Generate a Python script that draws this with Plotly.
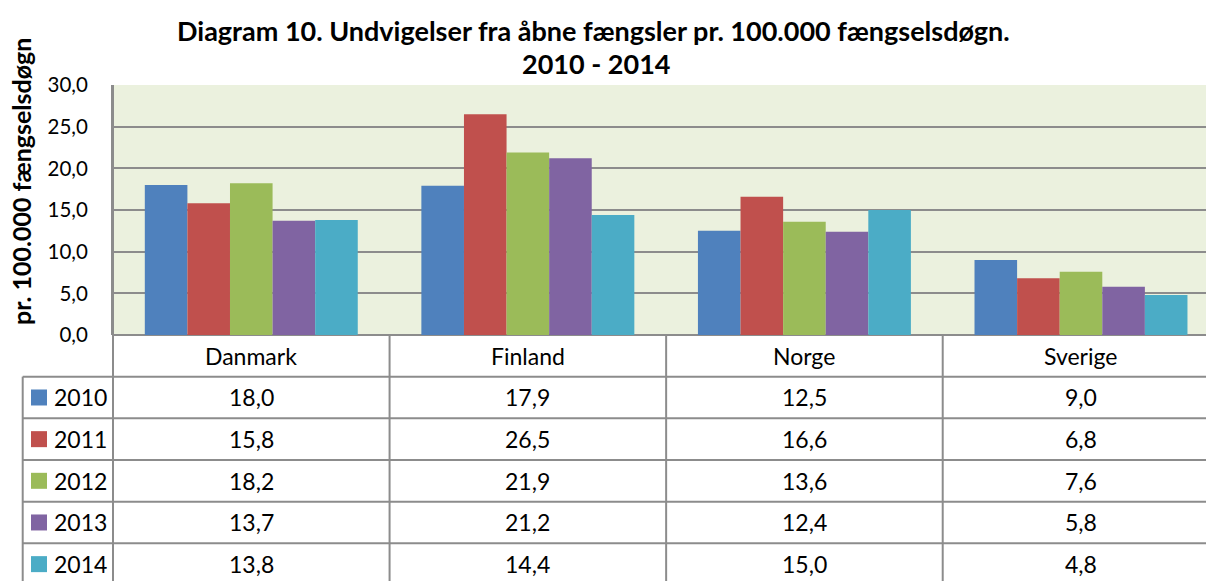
import plotly.graph_objects as go

countries = ["Danmark", "Finland", "Norge", "Sverige"]
years = ["2010", "2011", "2012", "2013", "2014"]
values = {
    "2010": [18.0, 17.9, 12.5, 9.0],
    "2011": [15.8, 26.5, 16.6, 6.8],
    "2012": [18.2, 21.9, 13.6, 7.6],
    "2013": [13.7, 21.2, 12.4, 5.8],
    "2014": [13.8, 14.4, 15.0, 4.8],
}
colors = ["#4F81BD", "#C0504D", "#9BBB59", "#8064A2", "#4BACC6"]
y_ticks = [0, 5, 10, 15, 20, 25, 30]

FONT = "Lato"
PAGE_W, PAGE_H = 1206, 581
W, H = PAGE_W, PAGE_H
PL, PT = 113, 85          # plot area left/top in page pixels
PLOT_W, PLOT_H = PAGE_W - PL, 250
L, T = PL, PT
B = H - T - PLOT_H
XMIN, XMAX = -0.5, 3.452
GRID = "#8C8C8C"
LINE = "#8C8C8C"

fig = go.Figure()
for i, yr in enumerate(years):
    fig.add_trace(go.Bar(
        x=list(range(len(countries))), y=values[yr], name=yr,
        marker=dict(color=colors[i], line=dict(width=0)),
        showlegend=False, hoverinfo="skip",
    ))

def px_x(px):
    return (px - PL) / PLOT_W

def px_y(py):
    return (PT + PLOT_H - py) / PLOT_H

def cat_x(c):
    return (c - XMIN) / (XMAX - XMIN)

shapes = []
annotations = []
row_h = 41.66
y0 = PT + PLOT_H
header_bottom = y0 + row_h
legend_left = 22.7
for k in range(0, 6):
    yy = header_bottom + k * row_h
    shapes.append(dict(type="line", xref="paper", yref="paper",
                       x0=px_x(legend_left), x1=1.0, y0=px_y(yy), y1=px_y(yy),
                       line=dict(color=LINE, width=2)))
shapes.append(dict(type="line", xref="paper", yref="paper",
                   x0=px_x(legend_left), x1=px_x(legend_left),
                   y0=px_y(header_bottom), y1=px_y(PAGE_H + 10),
                   line=dict(color=LINE, width=2)))
for c in range(len(countries) + 1):
    xx = cat_x(c - 0.5)
    if xx > 1.0:
        continue
    shapes.append(dict(type="line", xref="paper", yref="paper",
                       x0=xx, x1=xx, y0=0 if c > 0 else 1, y1=px_y(PAGE_H + 10),
                       line=dict(color=LINE, width=2)))

TS = 23
for c, name in enumerate(countries):
    annotations.append(dict(xref="paper", yref="paper", x=cat_x(c), y=px_y(y0 + row_h / 2),
                            text=name, showarrow=False, xanchor="center", yanchor="middle",
                            font=dict(family=FONT, size=TS, color="#000")))
for k, yr in enumerate(years):
    yc = header_bottom + k * row_h + row_h / 2
    shapes.append(dict(type="rect", xref="paper", yref="paper",
                       x0=px_x(31), x1=px_x(47), y0=px_y(yc - 8), y1=px_y(yc + 8),
                       fillcolor=colors[k], line=dict(width=0)))
    annotations.append(dict(xref="paper", yref="paper", x=px_x(52), y=px_y(yc),
                            text=yr, showarrow=False, xanchor="left", yanchor="middle",
                            font=dict(family=FONT, size=TS, color="#000")))
    for c in range(len(countries)):
        annotations.append(dict(xref="paper", yref="paper", x=cat_x(c), y=px_y(yc),
                                text=f"{values[yr][c]:.1f}".replace(".", ","), showarrow=False,
                                xanchor="center", yanchor="middle",
                                font=dict(family=FONT, size=TS, color="#000")))

annotations.append(dict(xref="paper", yref="paper", x=px_x(593), y=px_y(30),
                        text="<b>Diagram 10. Undvigelser fra åbne fængsler pr. 100.000 fængselsdøgn.</b>",
                        showarrow=False, xanchor="center", yanchor="middle",
                        font=dict(family=FONT, size=27, color="#000")))
annotations.append(dict(xref="paper", yref="paper", x=px_x(596), y=px_y(64),
                        text="<b>2010 - 2014</b>",
                        showarrow=False, xanchor="center", yanchor="middle",
                        font=dict(family=FONT, size=27, color="#000")))
annotations.append(dict(xref="paper", yref="paper", x=px_x(21), y=px_y(182),
                        text="<b>pr. 100.000 fængselsdøgn</b>", textangle=-90,
                        showarrow=False, xanchor="center", yanchor="middle",
                        font=dict(family=FONT, size=25, color="#000")))

fig.update_layout(
    width=W, height=H,
    margin=dict(l=L, r=0, t=T, b=B, pad=0, autoexpand=False),
    paper_bgcolor="white", plot_bgcolor="#EBF1DE",
    barmode="group", bargap=0.23, bargroupgap=0,
    separators=", ",
    shapes=shapes, annotations=annotations,
    font=dict(family=FONT, color="#000"),
)
fig.update_xaxes(range=[XMIN, XMAX], showticklabels=False, showgrid=False,
                 zeroline=False, showline=False, ticks="", automargin=False)
fig.update_yaxes(range=[0, 30], tickvals=y_ticks, tickformat=".1f",
                 showgrid=True, gridcolor=GRID, gridwidth=2,
                 zeroline=True, zerolinecolor=GRID, zerolinewidth=2,
                 showline=True, linecolor=GRID, linewidth=2, automargin=False,
                 ticks="", ticklabelstandoff=19,
                 tickfont=dict(family=FONT, size=20.5, color="#000"))

fig.write_html(
    "out.html",
    config={"displayModeBar": False},
    post_script="document.body.style.margin='0';"
                "document.documentElement.style.overflow='hidden';"
                "document.body.style.overflow='hidden';",
)
